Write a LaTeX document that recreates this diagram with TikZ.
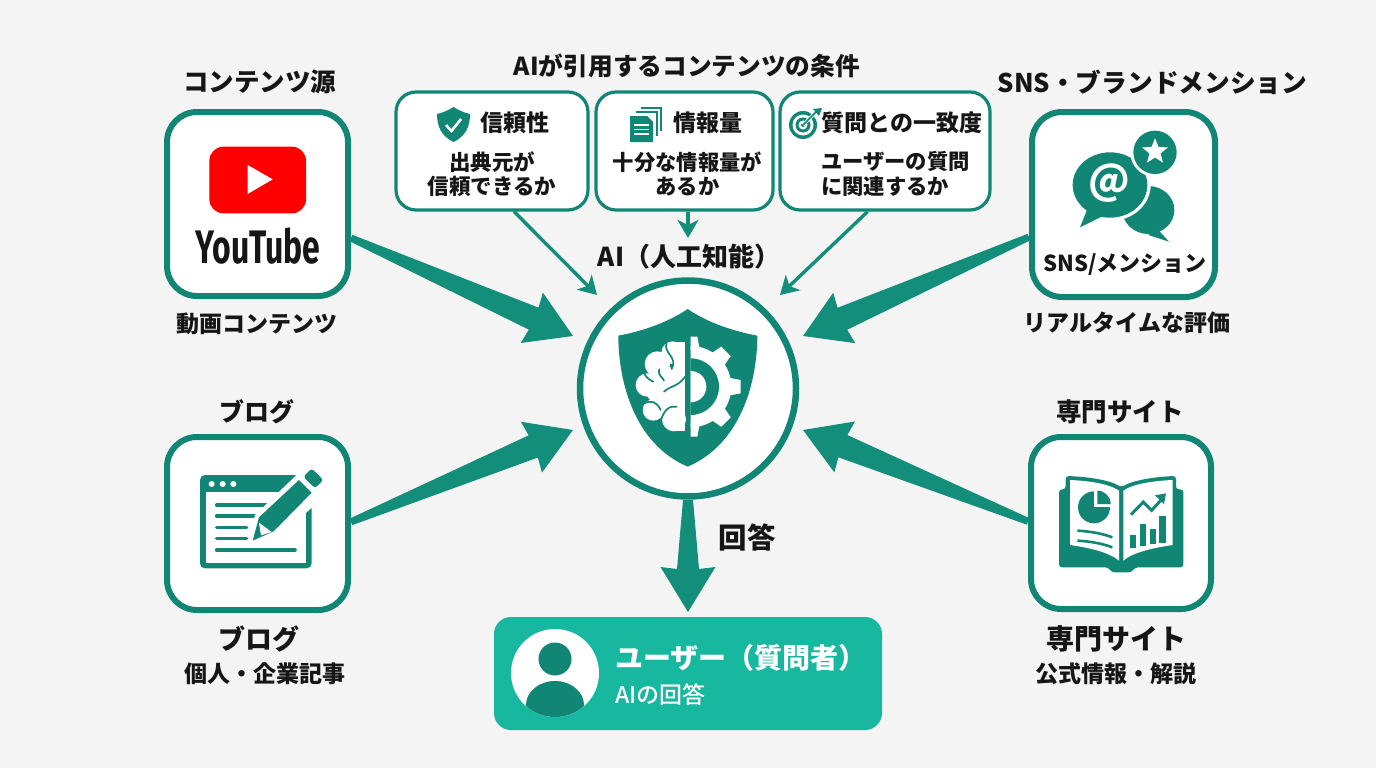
\documentclass[tikz,border=0pt]{standalone}
\usepackage{fontspec}
\setmainfont{Noto Sans CJK JP}
\newfontfamily\ytfont{Fira Sans}
\newfontface\medfont{Noto Sans CJK JP Medium}
\usetikzlibrary{calc,arrows.meta,shapes.geometric}

\definecolor{pagegray}{HTML}{F4F4F4}
\definecolor{leaf}{HTML}{128674}
\definecolor{arrowleaf}{HTML}{128E7B}
\definecolor{mint}{HTML}{17B89F}
\definecolor{ytred}{HTML}{FF0000}
\definecolor{inkblack}{HTML}{161616}

\newcommand{\fs}[1]{\fontsize{#1}{#1}\selectfont\bfseries}

\tikzset{
	srcbox/.style={draw=leaf, line width=6pt, rounded corners=30pt, fill=white, inner sep=0pt},
	condbox/.style={draw=leaf, line width=3.2pt, rounded corners=20pt, fill=white, inner sep=0pt, minimum height=118pt},
	lbl/.style={text=inkblack, inner sep=0pt},
	thinarrow/.style={draw=arrowleaf, line width=3.4pt, -{Stealth[length=18pt,width=21pt,inset=5pt]}},
	widearrow/.style={fill=arrowleaf},
}

\begin{document}
\begin{tikzpicture}[x=1pt,y=-1pt]
	\useasboundingbox (0,0) rectangle (1376,768);
	\fill[pagegray] (0,0) rectangle (1376,768);

	% boxes
	\node[srcbox, minimum width=181pt, minimum height=184pt] (youtube) at (257.5,204) {};
	\node[srcbox, minimum width=183pt, minimum height=185pt] (sns) at (1123.5,204.5) {};
	\node[srcbox, minimum width=181pt, minimum height=173pt] (blog) at (257.5,523.5) {};
	\node[srcbox, minimum width=180pt, minimum height=172pt] (expert) at (1121,523) {};
	\node[condbox, minimum width=192pt] (cond1) at (492,151) {};
	\node[condbox, minimum width=177pt] (cond2) at (684.5,151) {};
	\node[condbox, minimum width=210pt] (cond3) at (885,151) {};
	\node[circle, draw=leaf, line width=6.5pt, fill=white, minimum size=216pt, inner sep=0pt] (hub) at (688,388.5) {};
	\node[fill=mint, rounded corners=17pt, minimum width=388pt, minimum height=113pt, inner sep=0pt] (user) at (688,673.5) {};

	\coordinate (tipa) at (573,336);
	\coordinate (tipb) at (573,430);
	\coordinate (tipc) at (803,336);
	\coordinate (tipd) at (803,430);
	\coordinate (tipe) at (688,612);
	\coordinate (tipf) at (597,295);
	\coordinate (tipg) at (688,238);
	\coordinate (tiph) at (780,295);

	\foreach \src/\tip/\tw/\nw in {youtube.-20/tipa/3.5/12, blog.1/tipb/3.5/12, sns.199/tipc/3.5/12, expert.179/tipd/3.5/12, hub.south/tipe/5/11}
	{
	\coordinate (nk) at ($(\tip)!43pt!(\src)$);
	\coordinate (hd) at ($(\tip)!45pt!(\src)$);
	\fill[widearrow] ($(\src)!\tw pt!90:(\tip)$) -- ($(nk)!\nw pt!90:(\tip)$) -- ($(hd)!27.5pt!90:(\tip)$) -- (\tip)
		-- ($(hd)!27.5pt!-90:(\tip)$) -- ($(nk)!\nw pt!-90:(\tip)$) -- ($(\src)!\tw pt!-90:(\tip)$) -- cycle;
}

	\draw[thinarrow] (cond1.-70) -- (tipf);
	\draw[thinarrow] (cond2.south -| tipg) -- (tipg);
	\draw[thinarrow] (cond3.-106) -- (tiph);

	% titles and captions
	\node[lbl, font=\fs{25.5}] (tsrc) at (259.5,82) {コンテンツ源};
	\node[lbl, font=\fs{23}] (cvideo) at (257,324) {動画コンテンツ};
	\node[lbl, font=\fs{25}] (tblog) at (257,412) {ブログ};
	\node[lbl, font=\fs{27}] (bblog) at (259,639) {ブログ};
	\node[lbl, font=\fs{23}] (cblog) at (264.5,674) {個人・企業記事};
	\node[lbl, font=\fs{24.7}] (tcond) at (687,66) {AIが引用するコンテンツの条件};
	\node[lbl, font=\fs{26}] (thub) at (689,257) {AI（人工知能）};
	\node[lbl, font=\fs{25.7}] (tsns) at (1152.5,82) {SNS・ブランドメンション};
	\node[lbl, font=\fs{23}] (csns) at (1127,323) {リアルタイムな評価};
	\node[lbl, font=\fs{25.5}] (texpert) at (1120,412) {専門サイト};
	\node[lbl, font=\fs{28}] (bexpert) at (1116,639) {専門サイト};
	\node[lbl, font=\fs{23}] (cexpert) at (1116,674) {公式情報・解説};
	\node[lbl, font=\fs{28.5}] (ans) at (747,538) {回答};
	\node[lbl, font=\fs{22}] (lsns) at (1125,265) {SNS/メンション};

	% condition texts
	\node[lbl, font=\fs{23}] (h1) at (515,123) {信頼性};
	\node[lbl, font=\fs{21.5}, align=center] (b1) at (492,174) {出典元が\\[3pt]信頼できるか};
	\node[lbl, font=\fs{23}] (h2) at (708,123) {情報量};
	\node[lbl, font=\fs{21.3}, align=center] (b2) at (687.5,174) {十分な情報量が\\[3pt]あるか};
	\node[lbl, font=\fs{23}] (h3) at (902,123) {質問との一致度};
	\node[lbl, font=\fs{21.3}, align=left, anchor=west] (b3) at (821,174) {ユーザーの質問\\[3pt]に関連するか};

	% user box
	\node[anchor=west, text=white, inner sep=0pt, font=\fs{28}] (uname) at (615,658) {ユーザー（質問者）};
	\node[anchor=west, text=white, inner sep=0pt, font=\medfont\fontsize{23}{23}\selectfont] (uans) at (615,695) {AIの回答};
	\fill[white] (555,673) circle (44);
	\begin{scope}
	\clip (555,673) circle (44);
	\fill[leaf] (555,705) ellipse (29 and 24);
	\end{scope}
	\fill[leaf] (555,659) circle (16.5);

	% youtube logo
	\begin{scope}[shift={(155,100)},scale=1/3]
	\fill[ytred] (163,140) [rounded corners=14pt] rectangle (453,340);
	\fill[white] (278,195) -- (278,282) -- (353,238) -- cycle;
	\end{scope}
	\node[text=inkblack, inner sep=0pt, font=\ytfont\fontsize{47}{47}\selectfont\bfseries] (ytword) at (258,246) {\scalebox{.68}[1]{YouTube}};

	% chat icon
	\begin{scope}[shift={(1020,100)},scale=1/3]
	\fill[leaf] (385,330) ellipse (78 and 72);
	\fill[leaf] (410,385) -- (447,425) -- (385,405) -- cycle;
	\fill[white] (270,255) ellipse (122 and 108);
	\fill[leaf] (270,255) ellipse (112 and 98);
	\fill[leaf] (205,320) -- (180,382) -- (265,340) -- cycle;
	\fill[white] (405,157) circle (74);
	\fill[leaf] (405,157) circle (65);
	\node[text=white, inner sep=0pt, font=\fs{40}] (atmark) at (268,250) {@};
	\node[star, star points=5, star point ratio=2.3, fill=white, minimum size=27pt, inner sep=0pt] (starmark) at (405,155) {};
	\end{scope}

	% blog icon
	\begin{scope}[shift={(155,430)},scale=1/3]
	\fill[leaf, rounded corners=5pt] (135,135) rectangle (470,415);
	\fill[white] (153,185) rectangle (453,398);
	\foreach \x in {170,203,235}
	{
	\fill[white] (\x,162) circle (9);
}
	\foreach \y/\xe in {225/335, 258/300, 292/275, 325/275, 360/420}
	{
	\draw[leaf, line width=3.6pt, line cap=round] (185,\y) -- (\xe,\y);
}
	\fill[white] (280,345) -- (300,255) -- (440,120) -- (520,190) -- (365,325) -- cycle;
	\fill[leaf, rounded corners=3pt] (445,140) -- (470,115) -- (505,150) -- (480,175) -- cycle;
	\fill[leaf] (293,332) -- (312,262) -- (432,150) -- (470,188) -- (356,304) -- cycle;
	\fill[white] (312,278) -- (350,306) -- (318,316) -- cycle;
	\end{scope}

	% book icon
	\begin{scope}[shift={(1020,430)},scale=1/3]
	\fill[leaf, rounded corners=3pt] (117,178) -- (137,178) -- (137,138) .. controls (200,140) and (270,150) .. (304,172)
		.. controls (340,150) and (410,140) .. (468,138) -- (468,178) -- (490,178) -- (490,412) -- (345,412)
		-- (335,427) -- (275,427) -- (265,412) -- (117,412) -- cycle;
	\fill[white] (150,150) .. controls (200,152) and (265,160) .. (297,182) -- (297,392) .. controls (265,365) and (200,352) .. (150,345) -- cycle;
	\fill[white] (310,182) .. controls (340,160) and (410,152) .. (458,150) -- (458,345) .. controls (410,352) and (340,365) .. (310,392) -- cycle;
	\fill[leaf] (222,232) circle (48);
	\fill[white] (222,232) rectangle (280,176);
	\fill[leaf] (232,222) -- (232,182) arc[start angle=-90, end angle=0, radius=40] -- cycle;
	\draw[leaf, line width=2.6pt] (172,302) .. controls (210,304) and (245,310) .. (277,322);
	\draw[leaf, line width=2.6pt] (172,332) .. controls (210,334) and (245,340) .. (277,352);
	\fill[leaf] (330,315) rectangle (349,355);
	\fill[leaf] (360,282) rectangle (378,349);
	\fill[leaf] (390,297) rectangle (408,343);
	\fill[leaf] (418,258) rectangle (438,338);
	\draw[leaf, line width=3pt] (333,254) -- (370,216) -- (395,241) -- (425,208);
	\fill[leaf] (405,196) -- (438,190) -- (432,222) -- cycle;
	\end{scope}

	% hub emblem
	\begin{scope}[shift={(570,270)},scale=1/3]
	\fill[leaf] (353,117) .. controls (290,160) and (210,185) .. (145,197) .. controls (145,330) and (190,520) .. (353,590)
		.. controls (516,520) and (562,330) .. (562,197) .. controls (496,185) and (416,160) .. (353,117) -- cycle;
	\begin{scope}
	\clip (362,180) rectangle (560,520);
	\fill[white] (362,350) circle (122);
	\foreach \a in {0,45,90,-45,-90}
	{
	\fill[white, rotate around={\a:(362,350)}] (470,322) -- (512,330) -- (512,370) -- (470,378) -- cycle;
}
	\fill[leaf] (362,350) circle (85);
	\fill[white] (362,350) circle (47);
	\end{scope}
	\fill[white] (308,248) circle (34);
	\fill[white] (262,282) circle (38);
	\fill[white] (232,345) circle (35);
	\fill[white] (250,420) circle (32);
	\fill[white] (312,448) circle (36);
	\fill[white] (285,350) circle (60);
	\fill[white] (310,216) rectangle (346,484);
	\fill[white] (260,300) rectangle (346,425);
	\draw[leaf, line width=1.7pt, line cap=round] (290,218) .. controls (278,250) and (325,260) .. (305,297);
	\draw[leaf, line width=1.7pt, line cap=round] (268,298) .. controls (262,318) and (280,322) .. (282,332);
	\draw[leaf, line width=1.7pt, line cap=round] (222,310) .. controls (230,325) and (240,330) .. (250,335);
	\draw[leaf, line width=1.7pt, line cap=round] (345,320) .. controls (325,350) and (305,345) .. (282,365);
	\draw[leaf, line width=1.7pt, line cap=round] (222,400) .. controls (245,390) and (260,395) .. (272,420);
	\draw[leaf, line width=1.7pt, line cap=round] (320,410) .. controls (300,405) and (280,420) .. (272,455);
	\end{scope}

	% small icons
	\fill[leaf] (453.5,107) .. controls (447,111) and (442,113) .. (437,114) .. controls (437,126) and (441,136) .. (453.5,142)
		.. controls (466,136) and (470,126) .. (470,114) .. controls (465,113) and (460,111) .. (453.5,107) -- cycle;
	\draw[white, line width=2.6pt] (446,125) -- (451.5,131) -- (461,119);

	\draw[leaf, line width=1.4pt] (641,108) -- (661,108) -- (661,131);
	\draw[leaf, line width=1.4pt] (636,112) -- (657,112) -- (657,136);
	\fill[leaf] (630,116) -- (647,116) -- (653,122) -- (653,142) -- (630,142) -- cycle;
	\foreach \y in {125,129.5,134}
	{
	\draw[white, line width=1.2pt] (634,\y) -- (649,\y);
}

	\fill[leaf] (803,125) circle (14);
	\fill[white] (803,125) circle (10.5);
	\fill[leaf] (803,125) circle (7.5);
	\fill[white] (803,125) circle (4.5);
	\fill[leaf] (803,125) circle (2);
	\draw[white, line width=3.5pt] (803,125) -- (816,112);
	\draw[leaf, line width=1.6pt] (803,125) -- (817,111);
	\fill[leaf] (813,109) -- (822,108) -- (819,116) -- cycle;

\end{tikzpicture}
\end{document}
